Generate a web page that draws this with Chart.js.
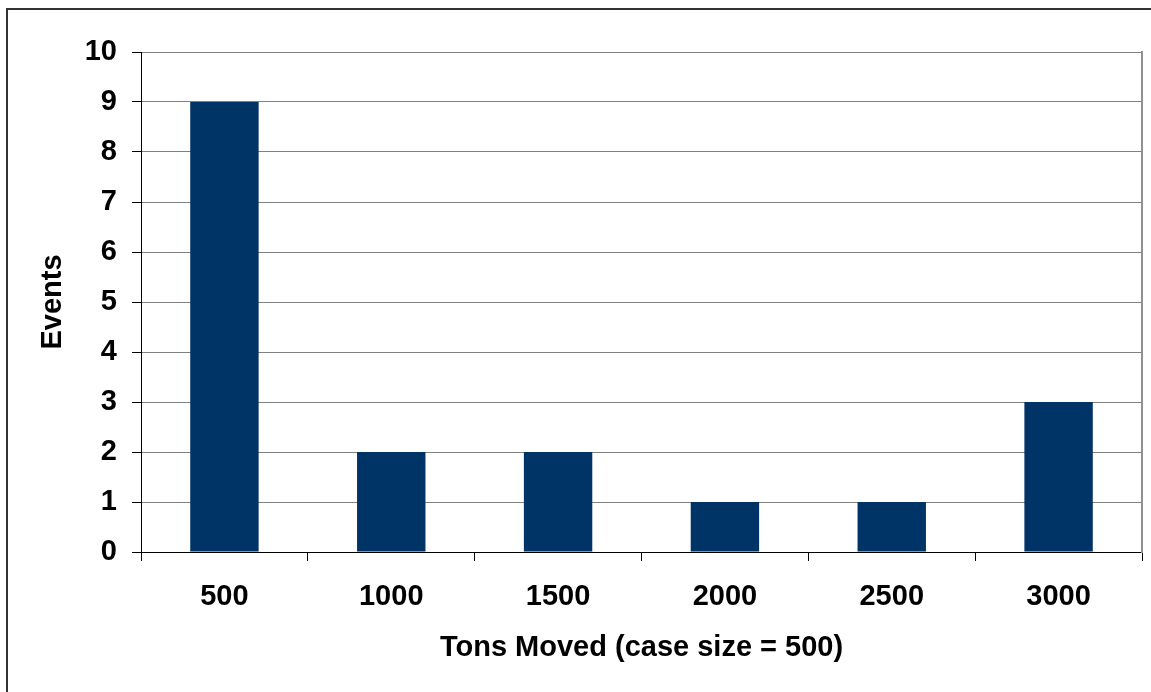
<!DOCTYPE html>
<html>
<head>
<meta charset="utf-8">
<script src="https://cdn.jsdelivr.net/npm/chart.js@4/dist/chart.umd.min.js"></script>
<style>
  html, body { margin: 0; padding: 0; background: #fff; overflow: hidden; }
  #wrap { position: absolute; left: 0; top: 0; width: 1151px; height: 692px; }
  #frame { position: absolute; left: 6px; top: 8px; width: 1300px; height: 900px;
           border-left: 2px solid #333; border-top: 2px solid #333; pointer-events: none; }
</style>
</head>
<body>
<div id="wrap">
  <canvas id="chart" width="1151" height="692"></canvas>
  <div id="frame"></div>
</div>
<script>
// 資料
const categories = ['500', '1000', '1500', '2000', '2500', '3000'];
const events = [9, 2, 2, 1, 1, 3];
const yTicks = [0, 1, 2, 3, 4, 5, 6, 7, 8, 9, 10];

const font = { family: '"Liberation Sans", Arial, sans-serif', size: 29, weight: 'bold' };

new Chart(document.getElementById('chart'), {
    type: 'bar',
    data: {
        labels: categories,
        datasets: [{
            label: 'Events',
            data: events,
            backgroundColor: '#003366',
            borderWidth: 0,
            categoryPercentage: 1,
            barPercentage: 0.41
        }]
    },
    options: {
        responsive: false,
        animation: false,
        devicePixelRatio: 1,
        layout: { padding: { left: 36, top: 52, right: 9, bottom: 27 } },
        plugins: { legend: { display: false }, tooltip: { enabled: false } },
        scales: {
            x: {
                offset: true,
                grid: {
                    offset: true,
                    drawOnChartArea: false,
                    drawTicks: true,
                    tickLength: 9,
                    color: '#000'
                },
                border: { color: '#000', width: 1 },
                ticks: { color: '#000', font: font, padding: 19 },
                title: { display: true, text: 'Tons Moved (case size = 500)', color: '#000', font: font, padding: 0 },
                afterFit: function(scale) { scale.height = 692 - 552 - 27; }
            },
            y: {
                min: 0,
                max: 10,
                afterBuildTicks: function(scale) { scale.ticks = yTicks.map(v => ({ value: v })); },
                grid: { color: '#808080', lineWidth: 1, tickLength: 9, tickColor: '#000' },
                border: { color: '#000', width: 1 },
                ticks: { color: '#000', font: font, padding: 15 },
                title: { display: true, text: 'Events', color: '#000', font: font, padding: 0 },
                afterFit: function(scale) { scale.width = 141 - 36; }
            },
            y2: {
                position: 'right',
                min: 0,
                max: 10,
                grid: { drawOnChartArea: false, drawTicks: false },
                border: { color: '#909090', width: 2 },
                ticks: { display: false },
                afterFit: function(scale) { scale.width = 0; }
            }
        }
    }
});
</script>
</body>
</html>
